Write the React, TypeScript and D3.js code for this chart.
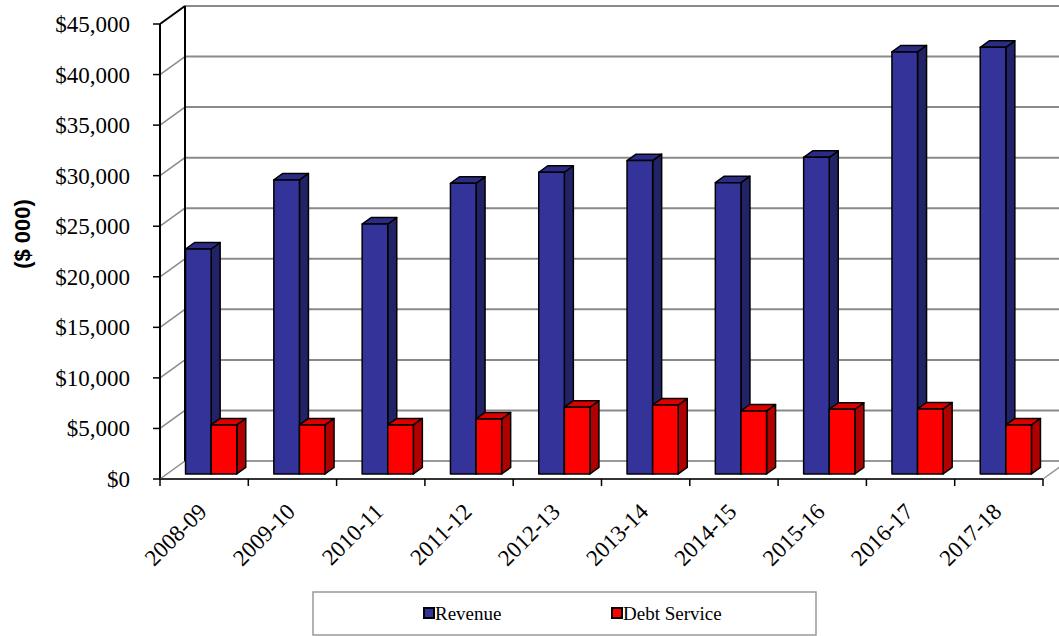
import React from "react";
import * as d3 from "d3";

const categories = ["2008-09","2009-10","2010-11","2011-12","2012-13","2013-14","2014-15","2015-16","2016-17","2017-18"];
const seriesNames = ["Revenue", "Debt Service"];
const revenue = [22250, 29080, 24720, 28750, 29840, 30990, 28810, 31320, 41740, 42200];
const debtService = [4850, 4850, 4850, 5440, 6600, 6820, 6230, 6400, 6430, 4850];
const yTicks = [0, 5000, 10000, 15000, 20000, 25000, 30000, 35000, 40000, 45000];

const W = 1059, H = 636;
const X0 = 160, X1 = 1043, Y0 = 479, YTOP = 24;
const DX = 25, DY = -18;
const BF = 0.28, BB = 0.64;

const colors = [
  { front: "#333399", top: "#2c2c86", side: "#222266" },
  { front: "#ff0000", top: "#dd0000", side: "#b00000" },
];

export default function App() {
  const y = d3.scaleLinear().domain([0, 45000]).range([Y0, YTOP]);
  const xc = d3.scaleBand<string>().domain(categories).range([X0, X1]).paddingInner(0.42).paddingOuter(0.21);
  const xs = d3.scaleBand<string>().domain(categories).range([X0, X1]);
  const x1 = d3.scaleBand<string>().domain(seriesNames).range([0, xc.bandwidth()]);
  const data = [revenue, debtService];
  const fmt = (v: number) => "$" + d3.format(",")(v);

  const ox = DX * BF, oy = DY * BF;
  const bx = DX * (BB - BF), by = DY * (BB - BF);

  return (
    <svg width={W} height={H} style={{ position: "absolute", left: 0, top: 0, background: "#fff" }}>
      {/* back wall gridlines */}
      {yTicks.map((t) => (
        <line key={"g" + t} x1={X0 + DX} x2={X1 + DX + 10} y1={y(t) + DY} y2={y(t) + DY}
          stroke={t === 0 ? "#999" : "#8a8a8a"} strokeWidth={2} />
      ))}
      {/* left wall diagonals */}
      {yTicks.map((t) => (
        <line key={"d" + t} x1={X0} y1={y(t)} x2={X0 + DX} y2={y(t) + DY}
          stroke={t === 45000 ? "#000" : "#8a8a8a"} strokeWidth={t === 45000 ? 2 : 1.5} />
      ))}
      <line x1={X0 + DX} x2={X0 + DX} y1={y(45000) + DY} y2={y(0) + DY} stroke="#000" strokeWidth={2} />
      {/* floor right edge */}
      <line x1={X1} y1={Y0} x2={X1 + DX} y2={Y0 + DY} stroke="#999" strokeWidth={1.5} />
      {/* bars */}
      {categories.map((c, i) => (
        <g key={c}>
          {seriesNames.map((s, k) => {
            const v = data[k][i];
            const xl = (xc(c) as number) + (x1(s) as number) + ox;
            const w = x1.bandwidth();
            const yb = y(0) + oy;
            const yt = y(v) + oy;
            const col = colors[k];
            return (
              <g key={s} stroke="#000" strokeWidth={1.5} strokeLinejoin="round">
                <polygon fill={col.side} points={`${xl + w},${yt} ${xl + w + bx},${yt + by} ${xl + w + bx},${yb + by} ${xl + w},${yb}`} />
                <polygon fill={col.top} points={`${xl},${yt} ${xl + bx},${yt + by} ${xl + w + bx},${yt + by} ${xl + w},${yt}`} />
                <rect fill={col.front} x={xl} y={yt} width={w} height={yb - yt} />
              </g>
            );
          })}
        </g>
      ))}
      {/* front axis */}
      <line x1={X0} x2={X0} y1={y(45000)} y2={Y0} stroke="#000" strokeWidth={2} />
      <line x1={X0} x2={X1} y1={Y0} y2={Y0} stroke="#333" strokeWidth={2} />
      {yTicks.map((t) => (
        <g key={"t" + t}>
          <line x1={X0 - 7} x2={X0} y1={y(t)} y2={y(t)} stroke="#000" strokeWidth={1.5} />
          <text x={130} y={y(t)} dy="0.35em" textAnchor="end" fontFamily="'Liberation Serif', serif" fontSize={23} fill="#000">{fmt(t)}</text>
        </g>
      ))}
      {categories.map((c, i) => (
        <line key={"ct" + c} x1={(xs(c) as number)} x2={(xs(c) as number)} y1={Y0} y2={Y0 + 7} stroke="#000" strokeWidth={1.5} />
      ))}
      <line x1={X1} x2={X1} y1={Y0} y2={Y0 + 7} stroke="#000" strokeWidth={1.5} />
      {categories.map((c) => {
        const cx = (xs(c) as number) + xs.bandwidth() / 2 + 4;
        const cy = 513;
        return (
          <text key={"cl" + c} x={cx} y={cy} textAnchor="end" transform={`rotate(-45 ${cx} ${cy})`}
            fontFamily="'Liberation Serif', serif" fontSize={23} fill="#000">{c}</text>
        );
      })}
      {/* y title */}
      <text x={0} y={0} transform="translate(30 234) rotate(-90)" textAnchor="middle"
        fontFamily="'Liberation Sans', Arial, sans-serif" fontWeight="bold" fontSize={22} fill="#000">($ 000)</text>
      {/* legend */}
      <rect x={313} y={592} width={503} height={43} fill="#fff" stroke="#999" strokeWidth={1.5} />
      {seriesNames.map((s, k) => {
        const lx = k === 0 ? 424 : 612;
        return (
          <g key={"lg" + s}>
            <rect x={lx} y={608} width={10} height={10} fill={colors[k].front} stroke="#000" strokeWidth={2} />
            <text x={lx + 11} y={613} dy="0.35em" fontFamily="'Liberation Serif', serif" fontSize={19} fill="#000">{s}</text>
          </g>
        );
      })}
    </svg>
  );
}
